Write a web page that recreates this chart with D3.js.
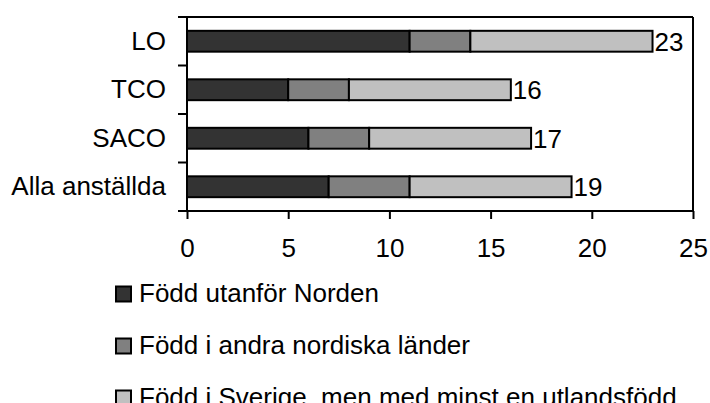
<!DOCTYPE html>
<html><head><meta charset="utf-8">
<script src="https://cdn.jsdelivr.net/npm/d3@7"></script>
<style>body{margin:0;background:#fff;overflow:hidden}svg{display:block}text{font-family:"Liberation Sans",Arial,sans-serif;fill:#000}</style>
</head><body><svg id="c" width="710" height="403"></svg>
<script>
const categories = ["LO", "TCO", "SACO", "Alla anställda"];
const seriesNames = [["Född utanför Norden"], ["Född i andra nordiska länder"], ["Född i Sverige, men med minst en utlandsfödd", "förälder"]];
const utanforNorden = [11, 5, 6, 7];
const andraNordiska = [3, 3, 3, 4];
const sverigeUtlForalder = [9, 8, 8, 8];
const totals = [23, 16, 17, 19];
const xTicks = [0, 5, 10, 15, 20, 25];
const colors = ["#333333", "#808080", "#c0c0c0"];

const FS = 26;
const svg = d3.select("#c");
const L = 187, R = 693, T = 17, B = 211;
const x = d3.scaleLinear().domain([0, 25]).range([L, R]);
const y = d3.scaleBand().domain(categories).range([T, B]).paddingInner(0.57).paddingOuter(0.285);
const yb = d3.scaleBand().domain(categories).range([T, B]);

// plot border (top, right)
svg.append("line").attr("x1", L).attr("x2", R).attr("y1", T).attr("y2", T).attr("stroke", "#000").attr("stroke-width", 2);
svg.append("line").attr("x1", R).attr("x2", R).attr("y1", T).attr("y2", B).attr("stroke", "#000").attr("stroke-width", 2);

const data = categories.map((c, i) => ({cat: c, vals: [utanforNorden[i], andraNordiska[i], sverigeUtlForalder[i]], total: totals[i]}));
const g = svg.append("g");
data.forEach(d => {
  let acc = 0;
  d.vals.forEach((v, k) => {
    g.append("rect").attr("x", x(acc)).attr("y", y(d.cat)).attr("width", x(acc + v) - x(acc)).attr("height", y.bandwidth())
      .attr("fill", colors[k]).attr("stroke", "#000").attr("stroke-width", 2);
    acc += v;
  });
  svg.append("text").attr("x", x(acc) + 2).attr("y", y(d.cat) + y.bandwidth() / 2).attr("dy", "0.36em")
    .attr("font-size", FS).text(d.total);
});

// x axis
const xa = svg.append("g").attr("transform", `translate(0,${B})`)
  .call(d3.axisBottom(x).tickValues(xTicks).tickSize(8).tickPadding(20));
xa.selectAll("path,line").attr("stroke", "#000").attr("stroke-width", 2);
xa.select(".domain").attr("d", `M${L},0H${R}`);
xa.selectAll("text").attr("font-size", FS).attr("font-family", "Liberation Sans, Arial, sans-serif");

// y axis
const ya = svg.append("g").attr("transform", `translate(${L},0)`)
  .call(d3.axisLeft(y).tickSize(0).tickPadding(21));
ya.select(".domain").attr("d", `M0,${T}V${B}`).attr("stroke", "#000").attr("stroke-width", 2);
ya.selectAll("text").attr("font-size", FS).attr("font-family", "Liberation Sans, Arial, sans-serif");
// category boundary ticks
const bounds = categories.map(c => yb(c)).concat([B]);
svg.append("g").selectAll("line").data(bounds).join("line")
  .attr("x1", L - 9).attr("x2", L).attr("y1", d => d).attr("y2", d => d).attr("stroke", "#000").attr("stroke-width", 2);

// legend
const lg = svg.append("g");
seriesNames.forEach((lines, i) => {
  const cy = 294 + i * 52;
  lg.append("rect").attr("x", 116).attr("y", cy - 7.5).attr("width", 15).attr("height", 15)
    .attr("fill", colors[i]).attr("stroke", "#000").attr("stroke-width", 2);
  const t = lg.append("text").attr("x", 139).attr("y", cy).attr("dy", "0.3em").attr("font-size", FS);
  lines.forEach((ln, j) => {
    t.append("tspan").attr("x", 139).attr("dy", j === 0 ? "0.3em" : "1.15em").text(ln);
  });
});
</script></body></html>
